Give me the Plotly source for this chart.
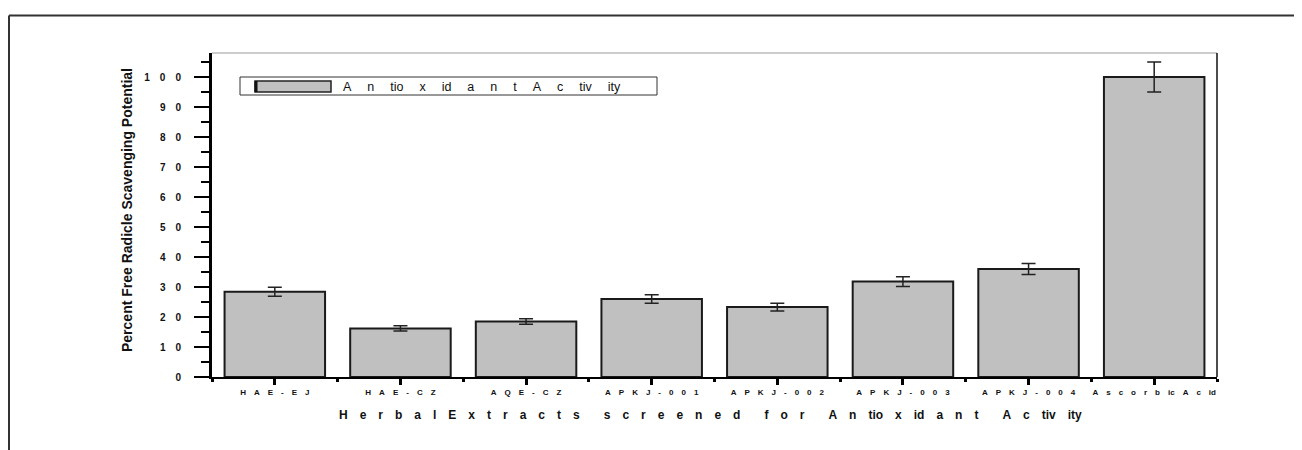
import plotly.graph_objects as go

categories = ["HAE-EJ", "HAE-CZ", "AQE-CZ", "APKJ-001", "APKJ-002", "APKJ-003", "APKJ-004", "Ascorbic Acid"]
tick_labels = ["H A E - E J", "H A E - C Z", "A Q E - C Z", "A P K J - 0 0 1",
               "A P K J - 0 0 2", "A P K J - 0 0 3", "A P K J - 0 0 4",
               "A s c o r b ic A c id"]
values = [28.4, 16.2, 18.5, 26.0, 23.3, 31.8, 36.0, 100.0]
errors = [1.5, 0.9, 0.95, 1.4, 1.3, 1.65, 1.8, 5.0]
y_tickvals = [0, 10, 20, 30, 40, 50, 60, 70, 80, 90, 100]
y_ticktext = ["0", "1 0", "2 0", "3 0", "4 0", "5 0", "6 0", "7 0", "8 0", "9 0", "1 0 0"]
series_name = "A n tio x id a n t A c tiv ity"
x_title = "H e r b a l E x t r a c t s|s c r e e n e d|f o r|A n tio x id a n t|A c tiv ity"
y_title = "Percent Free Radicle Scavenging Potential"

NB = "\u00a0"
EM = "\u2003"
tick_labels_sp = [t.replace(" ", EM) for t in tick_labels]
y_ticktext_sp = [t.replace(" ", EM) for t in y_ticktext]
legend_text = series_name.replace(" ", EM + NB)
x_title_sp = x_title.replace(" ", EM).replace("|", EM + EM)

# page is offset by the 8px body margin
OFF = 8
W, H = 1302 - OFF, 450 - OFF
PW, PH = 1005, 324
L, T = 212 - OFF, 53 - OFF
R, B = W - L - PW, H - T - PH


def px(x):
    return (x - OFF - L) / PW


def py(y):
    return (H - B - (y - OFF)) / PH


FONT = "Arial, Liberation Sans, sans-serif"

fig = go.Figure()
fig.add_trace(go.Bar(
    x=list(range(len(categories))), y=values, width=0.8,
    name=series_name,
    marker=dict(color="#c0c0c0", line=dict(color="#1a1a1a", width=2)),
    error_y=dict(type="data", array=errors, color="#222222", thickness=1.5, width=7),
    showlegend=False,
    hovertext=categories,
))

shapes = [
    # outer frame
    dict(type="line", xref="paper", yref="paper", x0=px(9), x1=px(1320), y0=py(15.5), y1=py(15.5),
         line=dict(color="#333333", width=2)),
    dict(type="line", xref="paper", yref="paper", x0=px(9), x1=px(9), y0=py(15.5), y1=py(470),
         line=dict(color="#333333", width=2)),
    # plot frame top/right
    dict(type="line", xref="paper", yref="paper", x0=0, x1=1, y0=1, y1=1,
         line=dict(color="#999999", width=1.2)),
    dict(type="line", xref="paper", yref="paper", x0=1, x1=1, y0=0, y1=1,
         line=dict(color="#111111", width=1.5)),
    # legend box
    dict(type="rect", xref="paper", yref="paper", x0=px(240), x1=px(657), y0=py(95), y1=py(77),
         line=dict(color="#333333", width=1), fillcolor="white"),
    dict(type="rect", xref="paper", yref="paper", x0=px(255), x1=px(331), y0=py(92), y1=py(81),
         line=dict(color="#222222", width=1.5), fillcolor="#c0c0c0"),
    dict(type="line", xref="paper", yref="paper", x0=px(256), x1=px(256), y0=py(92), y1=py(81),
         line=dict(color="#111111", width=3)),
]

annotations = [
    dict(text=legend_text, xref="paper", yref="paper", x=px(341), y=py(86.5), xanchor="left",
         yanchor="middle", showarrow=False, font=dict(family=FONT, size=12.5, color="#111111")),
    dict(text=x_title_sp, xref="paper", yref="paper", x=px(710.5), y=py(415), xanchor="center",
         yanchor="middle", showarrow=False, font=dict(family=FONT, size=12, color="#111111", weight="bold")),
    dict(text=y_title, xref="paper", yref="paper", x=px(127), y=py(210), xanchor="center",
         yanchor="middle", showarrow=False, textangle=-90,
         font=dict(family=FONT, size=14, color="#111111", weight="bold")),
]

fig.update_layout(
    width=W, height=H,
    margin=dict(l=L, r=R, t=T, b=B, pad=0),
    paper_bgcolor="white", plot_bgcolor="white",
    shapes=shapes, annotations=annotations,
)
fig.update_xaxes(
    range=[-0.5, 7.5], tickvals=list(range(len(categories))), ticktext=tick_labels_sp,
    showgrid=False, zeroline=False, showline=True, linecolor="black", linewidth=2,
    ticks="outside", ticklen=6, tickwidth=3, tickcolor="black",
    tickfont=dict(family=FONT, size=8, color="#111111", weight="bold"),
    minor=dict(tick0=-0.5, dtick=1, ticks="outside", ticklen=3, tickwidth=3, tickcolor="black"),
)
fig.update_yaxes(
    range=[0, 108], tickvals=y_tickvals, ticktext=y_ticktext_sp,
    showgrid=False, zeroline=False, showline=True, linecolor="black", linewidth=3,
    ticks="outside", ticklen=15, tickwidth=2, tickcolor="black",
    ticklabelstandoff=11,
    tickfont=dict(family=FONT, size=10, color="#111111", weight="bold"),
    minor=dict(tick0=5, dtick=10, ticks="outside", ticklen=8, tickwidth=2, tickcolor="black"),
)

fig.write_html("out.html")
